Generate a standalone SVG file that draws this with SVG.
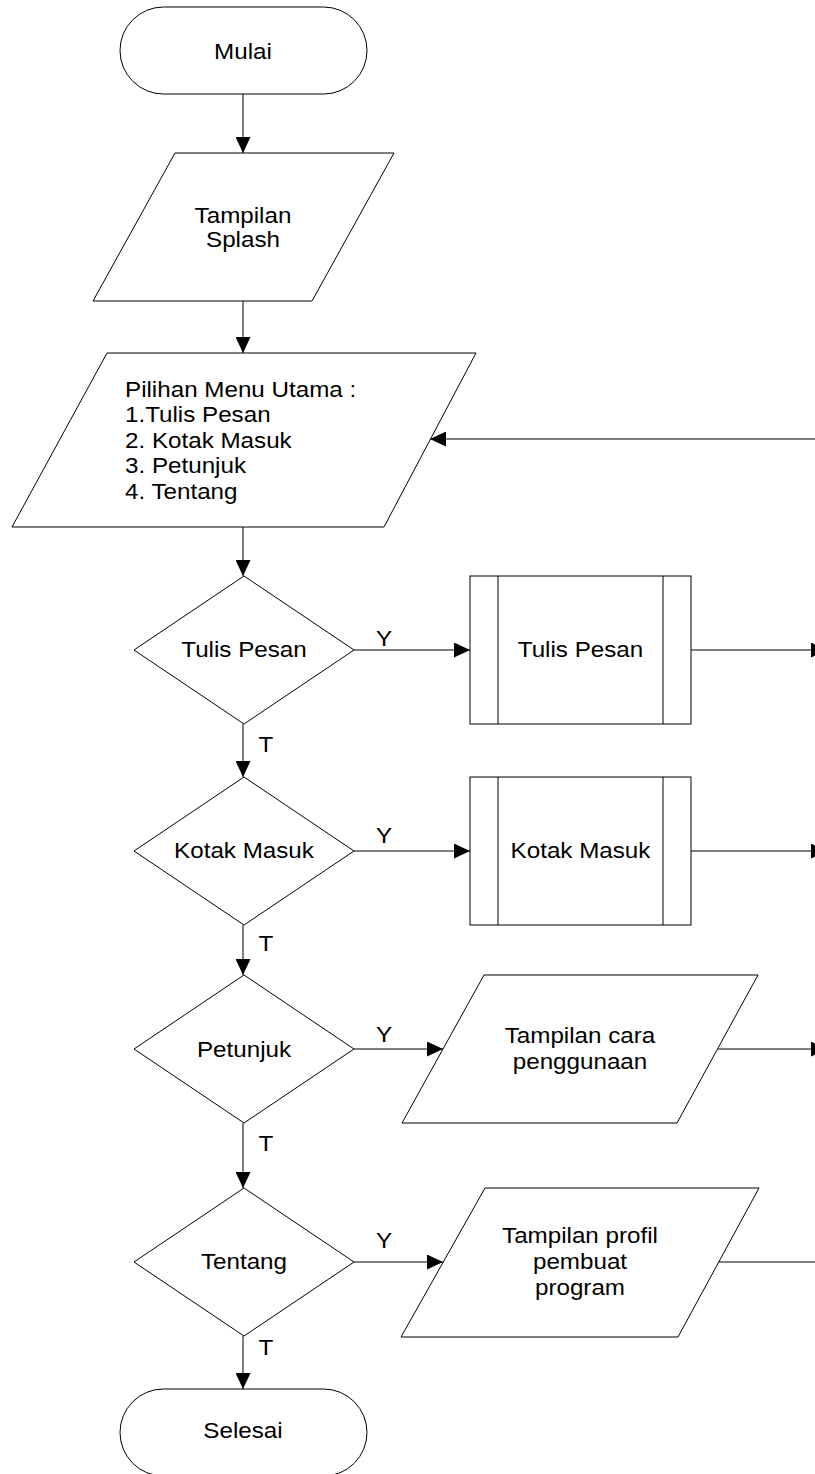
<svg xmlns="http://www.w3.org/2000/svg" width="815" height="1474" viewBox="0 0 815 1474">
  <style>
    .shape { fill: #fff; stroke: #000; stroke-width: 1; }
    .line { fill: none; stroke: #000; stroke-width: 1; }
    text { font-family: "Liberation Sans", Arial, sans-serif; font-size: 22px; fill: #000; }
    .c { text-anchor: middle; }
    .l { text-anchor: start; }
  </style>
  <defs>
    <marker id="arrow" markerUnits="userSpaceOnUse" markerWidth="16" markerHeight="15" refX="16" refY="7.5" orient="auto">
      <path d="M0,0 L16,7.5 L0,15 Z" fill="#000"/>
    </marker>
  </defs>
  <rect width="815" height="1474" fill="#fff"/>

  <!-- connectors -->
  <g id="connectors">
    <line class="line" x1="243" y1="94" x2="243" y2="153" marker-end="url(#arrow)"/>
    <line class="line" x1="243" y1="301" x2="243" y2="353" marker-end="url(#arrow)"/>
    <line class="line" x1="243" y1="527" x2="243" y2="576" marker-end="url(#arrow)"/>
    <line class="line" x1="815" y1="439" x2="430" y2="439" marker-end="url(#arrow)"/>

    <line class="line" x1="354" y1="650" x2="470" y2="650" marker-end="url(#arrow)"/>
    <line class="line" x1="691" y1="650" x2="827" y2="650" marker-end="url(#arrow)"/>
    <line class="line" x1="243" y1="724" x2="243" y2="777" marker-end="url(#arrow)"/>

    <line class="line" x1="354" y1="851" x2="470" y2="851" marker-end="url(#arrow)"/>
    <line class="line" x1="691" y1="851" x2="827" y2="851" marker-end="url(#arrow)"/>
    <line class="line" x1="243" y1="925" x2="243" y2="975" marker-end="url(#arrow)"/>

    <line class="line" x1="354" y1="1049" x2="443" y2="1049" marker-end="url(#arrow)"/>
    <line class="line" x1="718" y1="1049" x2="827" y2="1049" marker-end="url(#arrow)"/>
    <line class="line" x1="243" y1="1123" x2="243" y2="1188" marker-end="url(#arrow)"/>

    <line class="line" x1="354" y1="1262" x2="443" y2="1262" marker-end="url(#arrow)"/>
    <line class="line" x1="718" y1="1262" x2="815" y2="1262"/>
    <line class="line" x1="243" y1="1336" x2="243" y2="1389" marker-end="url(#arrow)"/>

    <text class="c" transform="translate(384 646) scale(1.1 1)">Y</text>
    <text class="c" transform="translate(266 752) scale(1.1 1)">T</text>
    <text class="c" transform="translate(384 843) scale(1.1 1)">Y</text>
    <text class="c" transform="translate(266 951) scale(1.1 1)">T</text>
    <text class="c" transform="translate(384 1042) scale(1.1 1)">Y</text>
    <text class="c" transform="translate(266 1151) scale(1.1 1)">T</text>
    <text class="c" transform="translate(384 1248) scale(1.1 1)">Y</text>
    <text class="c" transform="translate(266 1355) scale(1.1 1)">T</text>
  </g>

  <!-- start -->
  <g id="mulai">
    <rect class="shape" x="120" y="7" width="247" height="87" rx="43.5" ry="43.5"/>
    <text class="c" transform="translate(243 59) scale(1.1 1)">Mulai</text>
  </g>

  <!-- splash screen -->
  <g id="splash">
    <polygon class="shape" points="175,153 394,153 312,301 93,301"/>
    <text class="c" transform="translate(243 223) scale(1.1 1)">Tampilan</text>
    <text class="c" transform="translate(243 247) scale(1.1 1)">Splash</text>
  </g>

  <!-- main menu -->
  <g id="menu-utama">
    <polygon class="shape" points="107,353 476,353 384,527 12,527"/>
    <text class="l" transform="translate(125 397) scale(1.1 1)">Pilihan Menu Utama :</text>
    <text class="l" transform="translate(125 422) scale(1.1 1)">1.Tulis Pesan</text>
    <text class="l" transform="translate(125 448) scale(1.1 1)">2. Kotak Masuk</text>
    <text class="l" transform="translate(125 473) scale(1.1 1)">3. Petunjuk</text>
    <text class="l" transform="translate(125 499) scale(1.1 1)">4. Tentang</text>
  </g>

  <!-- decision: write message -->
  <g id="cek-tulis-pesan">
    <polygon class="shape" points="244,576 354,650 244,724 134,650"/>
    <text class="c" transform="translate(244 657) scale(1.1 1)">Tulis Pesan</text>
  </g>
  <g id="proses-tulis-pesan">
    <rect class="shape" x="470" y="576" width="221" height="148"/>
    <line class="line" x1="498" y1="576" x2="498" y2="724"/>
    <line class="line" x1="663" y1="576" x2="663" y2="724"/>
    <text class="c" transform="translate(580.5 657) scale(1.1 1)">Tulis Pesan</text>
  </g>

  <!-- decision: inbox -->
  <g id="cek-kotak-masuk">
    <polygon class="shape" points="244,777 354,851 244,925 134,851"/>
    <text class="c" transform="translate(244 858) scale(1.1 1)">Kotak Masuk</text>
  </g>
  <g id="proses-kotak-masuk">
    <rect class="shape" x="470" y="777" width="221" height="148"/>
    <line class="line" x1="498" y1="777" x2="498" y2="925"/>
    <line class="line" x1="663" y1="777" x2="663" y2="925"/>
    <text class="c" transform="translate(580.5 858) scale(1.1 1)">Kotak Masuk</text>
  </g>

  <!-- decision: help -->
  <g id="cek-petunjuk">
    <polygon class="shape" points="244,975 354,1049 244,1123 134,1049"/>
    <text class="c" transform="translate(244 1057) scale(1.1 1)">Petunjuk</text>
  </g>
  <g id="tampilan-cara">
    <polygon class="shape" points="484,975 758,975 677,1123 402,1123"/>
    <text class="c" transform="translate(580 1043) scale(1.1 1)">Tampilan cara</text>
    <text class="c" transform="translate(580 1069) scale(1.1 1)">penggunaan</text>
  </g>

  <!-- decision: about -->
  <g id="cek-tentang">
    <polygon class="shape" points="244,1188 354,1262 244,1336 134,1262"/>
    <text class="c" transform="translate(244 1269) scale(1.1 1)">Tentang</text>
  </g>
  <g id="tampilan-profil">
    <polygon class="shape" points="485,1188 759,1188 678,1337 401,1337"/>
    <text class="c" transform="translate(580 1243) scale(1.1 1)">Tampilan profil</text>
    <text class="c" transform="translate(580 1269) scale(1.1 1)">pembuat</text>
    <text class="c" transform="translate(580 1295) scale(1.1 1)">program</text>
  </g>

  <!-- end -->
  <g id="selesai">
    <rect class="shape" x="120" y="1389" width="247" height="87" rx="43.5" ry="43.5"/>
    <text class="c" transform="translate(243 1438) scale(1.1 1)">Selesai</text>
  </g>
</svg>
